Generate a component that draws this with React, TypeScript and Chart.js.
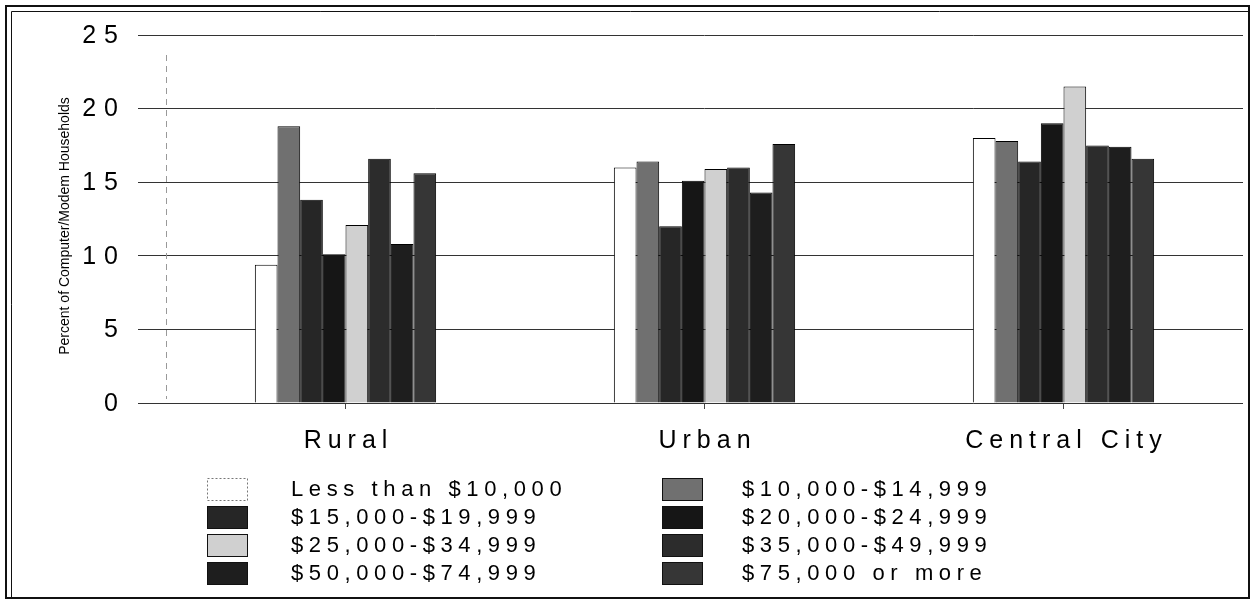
import React, { useEffect, useRef } from 'react';
import { Chart, registerables } from 'chart.js';

Chart.register(...registerables);

const categories = ['Rural', 'Urban', 'Central City'];
const seriesLabels = [
  'Less than $10,000',
  '$10,000-$14,999',
  '$15,000-$19,999',
  '$20,000-$24,999',
  '$25,000-$34,999',
  '$35,000-$49,999',
  '$50,000-$74,999',
  '$75,000 or more',
];
const lessThan10k = [9.4, 16.0, 18.0];
const inc10to15k = [18.8, 16.4, 17.8];
const inc15to20k = [13.8, 12.0, 16.4];
const inc20to25k = [10.1, 15.1, 19.0];
const inc25to35k = [12.1, 15.9, 21.5];
const inc35to50k = [16.6, 16.0, 17.5];
const inc50to75k = [10.8, 14.3, 17.4];
const inc75kPlus = [15.6, 17.6, 16.6];
const seriesValues = [lessThan10k, inc10to15k, inc15to20k, inc20to25k, inc25to35k, inc35to50k, inc50to75k, inc75kPlus];
const seriesColors = ['#ffffff', '#707070', '#262626', '#161616', '#d0d0d0', '#2c2c2c', '#1e1e1e', '#363636'];
const yTitle = 'Percent of Computer/Modem Households';
const yMin = 0;
const yMax = 25;
const yStep = 5;

const FONT = '"Liberation Sans", Arial, sans-serif';

function spacedText(ctx: any, text: string, x: number, y: number, spacing: number, align: 'left' | 'right' | 'center') {
  ctx.letterSpacing = `${spacing}px`;
  const w = ctx.measureText(text).width - spacing;
  let sx = x;
  if (align === 'right') sx = x - w;
  else if (align === 'center') sx = x - w / 2;
  ctx.textAlign = 'left';
  ctx.fillText(text, sx, y);
}

const decor = {
  id: 'decor',
  beforeDraw(chart: any) {
    const ctx = chart.ctx;
    ctx.save();
    ctx.fillStyle = '#ffffff';
    ctx.fillRect(0, 0, chart.width, chart.height);
    ctx.restore();
  },
  beforeDatasetsDraw(chart: any) {
    const ctx = chart.ctx;
    const { top, bottom, left } = chart.chartArea;
    ctx.save();
    ctx.strokeStyle = '#999';
    ctx.lineWidth = 1;
    ctx.setLineDash([6, 5]);
    ctx.beginPath();
    ctx.moveTo(Math.round(left) + 0.5, top + 20);
    ctx.lineTo(Math.round(left) + 0.5, bottom - 4);
    ctx.stroke();
    ctx.restore();
  },
  afterDraw(chart: any) {
    const ctx = chart.ctx;
    const xs = chart.scales.x;
    const ys = chart.scales.y;
    ctx.save();
    ctx.fillStyle = '#000';
    ctx.textBaseline = 'middle';
    // y tick labels
    ctx.font = `25px ${FONT}`;
    ys.ticks.forEach((t: any) => {
      spacedText(ctx, String(t.value), 118, ys.getPixelForValue(t.value) + 1, 8, 'right');
    });
    // x category labels
    ctx.font = `25px ${FONT}`;
    categories.forEach((c, i) => {
      spacedText(ctx, c, xs.getPixelForValue(i), chart.chartArea.bottom + 38, 6, 'center');
    });
    ctx.restore();

    // y-axis title
    ctx.save();
    ctx.letterSpacing = '0px';
    ctx.translate(65, 226);
    ctx.rotate(-Math.PI / 2);
    ctx.font = '14px "Liberation Sans Narrow", "Liberation Sans", sans-serif';
    ctx.textAlign = 'center';
    ctx.textBaseline = 'middle';
    ctx.fillStyle = '#000';
    ctx.fillText(yTitle, 0, 0);
    ctx.restore();

    // legend (2 columns x 4 rows)
    const colBox = [207, 662];
    const colText = [291, 742];
    const rowTop = [478, 506, 534, 562];
    ctx.save();
    ctx.font = `22px ${FONT}`;
    ctx.textBaseline = 'middle';
    seriesLabels.forEach((lab, i) => {
      const r = Math.floor(i / 2);
      const c = i % 2;
      ctx.fillStyle = seriesColors[i];
      ctx.fillRect(colBox[c], rowTop[r], 40, 22);
      ctx.strokeStyle = i === 0 ? '#777' : '#111';
      ctx.lineWidth = 1;
      ctx.setLineDash(i === 0 ? [2, 2] : []);
      ctx.strokeRect(colBox[c] + 0.5, rowTop[r] + 0.5, 40, 22);
      ctx.setLineDash([]);
      ctx.fillStyle = '#000';
      spacedText(ctx, lab, colText[c], rowTop[r] + 12, 5.6, 'left');
    });
    ctx.restore();

    // frame
    ctx.save();
    ctx.strokeStyle = '#111';
    ctx.lineWidth = 2;
    ctx.strokeRect(6, 6, 1243, 592);
    ctx.lineWidth = 1;
    ctx.beginPath();
    ctx.moveTo(11.5, 598);
    ctx.lineTo(11.5, 11.5);
    ctx.lineTo(1249, 11.5);
    ctx.stroke();
    ctx.restore();
  },
};

export default function App() {
  const ref = useRef<HTMLCanvasElement | null>(null);
  useEffect(() => {
    document.body.style.margin = '0';
    const canvas = ref.current!;
    const chart = new Chart(canvas, {
      type: 'bar',
      data: {
        labels: categories,
        datasets: seriesValues.map((vals, i) => ({
          label: seriesLabels[i],
          data: vals,
          backgroundColor: seriesColors[i],
          borderColor: '#000',
          borderWidth: 1,
          barPercentage: 1.0,
          categoryPercentage: 0.505,
        })),
      },
      options: {
        responsive: false,
        animation: false,
        devicePixelRatio: 1,
        layout: { padding: { left: 0, right: 10, top: 35, bottom: 0 } },
        plugins: {
          legend: { display: false },
          tooltip: { enabled: false },
        },
        scales: {
          x: {
            afterFit: (s: any) => { s.height = 198; },
            grid: {
              display: true,
              drawOnChartArea: false,
              drawTicks: true,
              tickLength: 6,
              offset: false,
              color: '#444',
            },
            border: { display: false },
            ticks: { display: false },
          },
          y: {
            min: yMin,
            max: yMax,
            afterFit: (s: any) => { s.width = 166; },
            grid: {
              color: '#333',
              lineWidth: 1,
              drawTicks: true,
              tickLength: 28,
            },
            border: { display: false },
            ticks: { display: false, stepSize: yStep },
          },
        },
      },
      plugins: [decor],
    });
    return () => chart.destroy();
  }, []);
  return (
    <div style={{ width: 1253, height: 601 }}>
      <canvas ref={ref} width={1253} height={601} style={{ display: 'block', width: 1253, height: 601 }} />
    </div>
  );
}
